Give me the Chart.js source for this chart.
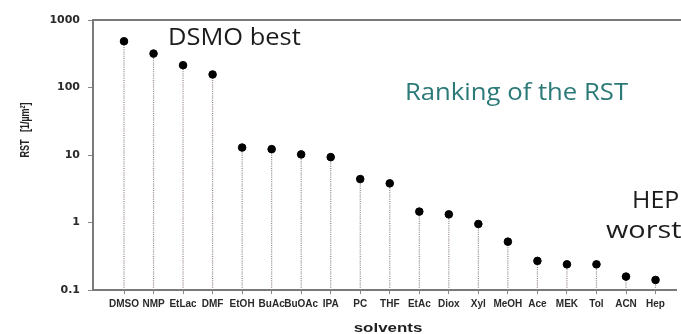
<!DOCTYPE html>
<html>
<head>
<meta charset="utf-8">
<script src="https://cdn.jsdelivr.net/npm/chart.js@4/dist/chart.umd.min.js"></script>
<style>
  html, body { margin: 0; padding: 0; background: #ffffff; }
  #wrap { width: 681px; height: 334px; }
</style>
</head>
<body>
<div id="wrap"><canvas id="c" width="681" height="334"></canvas></div>
<script>
// Solvents ranked by RST [1/µm²]
const solvents = ['DMSO', 'NMP', 'EtLac', 'DMF', 'EtOH', 'BuAc', 'BuOAc', 'IPA', 'PC', 'THF',
                  'EtAc', 'Diox', 'Xyl', 'MeOH', 'Ace', 'MEK', 'Tol', 'ACN', 'Hep'];
const rstValues = [484, 318, 214, 156, 12.9, 12.2, 10.2, 9.3, 4.4, 3.8,
                   1.45, 1.32, 0.95, 0.52, 0.27, 0.24, 0.24, 0.158, 0.141];
const yTicks = [0.1, 1, 10, 100, 1000];
const yMin = 0.1, yMax = 1000;

// Marker points
const points = rstValues.map((v, i) => ({ x: i, y: v }));
// Dotted stems from the bottom of the axis up to each point, separated by gaps
const stems = [];
rstValues.forEach((v, i) => {
  stems.push({ x: i, y: yMin }, { x: i, y: v }, { x: i, y: null });
});

function stretchedText(ctx, text, x, y, sx) {
  ctx.save();
  ctx.translate(x, y);
  ctx.scale(sx, 1);
  ctx.fillText(text, 0, 0);
  ctx.restore();
}

const notes = {
  id: 'notes',
  afterDraw(chart) {
    const ctx = chart.ctx;
    const a = chart.chartArea;
    ctx.save();
    // top frame line
    ctx.strokeStyle = '#7a7a7a';
    ctx.lineWidth = 2;
    ctx.beginPath();
    ctx.moveTo(a.left - 1, a.top);
    ctx.lineTo(chart.width, a.top);
    ctx.stroke();

    // y axis title
    ctx.save();
    ctx.translate(25, 130);
    ctx.rotate(-Math.PI / 2);
    ctx.scale(1, 1.45);
    ctx.fillStyle = '#222';
    ctx.font = 'bold 9px "Liberation Sans", Arial, sans-serif';
    ctx.textAlign = 'center';
    ctx.textBaseline = 'middle';
    ctx.fillText('RST   [1/\u00b5m\u00b2]', 0, 0);
    ctx.restore();

    // x axis title
    ctx.save();
    ctx.translate(388, 332);
    ctx.scale(1.3, 1);
    ctx.fillStyle = '#222';
    ctx.font = 'bold 13px "Liberation Sans", Arial, sans-serif';
    ctx.textAlign = 'center';
    ctx.textBaseline = 'alphabetic';
    ctx.fillText('solvents', 0, 0);
    ctx.restore();

    // annotations
    ctx.font = '24px "Open Sans", "Noto Sans", sans-serif';
    ctx.textAlign = 'left';
    ctx.textBaseline = 'alphabetic';
    ctx.fillStyle = '#1c1c1c';
    stretchedText(ctx, 'DSMO best', 168, 45, 1.06);
    stretchedText(ctx, 'HEP', 632, 208, 1.04);
    stretchedText(ctx, 'worst', 606, 238, 1.2);
    ctx.fillStyle = '#2b7a78';
    stretchedText(ctx, 'Ranking of the RST', 405, 100, 1.07);
    ctx.restore();
  }
};

new Chart(document.getElementById('c'), {
  type: 'scatter',
  data: {
    datasets: [
      {
        type: 'line',
        data: stems,
        borderColor: '#8f8280',
        borderWidth: 1.2,
        borderDash: [1, 1.2],
        pointRadius: 0,
        spanGaps: false,
        order: 2
      },
      {
        data: points,
        backgroundColor: '#000000',
        borderColor: '#000000',
        pointRadius: 3.8,
        pointHoverRadius: 3.8,
        order: 1
      }
    ]
  },
  options: {
    responsive: false,
    animation: false,
    events: [],
    layout: { padding: { left: 0, top: 20, right: 0, bottom: 0 } },
    plugins: { legend: { display: false }, tooltip: { enabled: false } },
    scales: {
      x: {
        type: 'linear',
        min: -1.05,
        max: 18.7,
        afterBuildTicks: s => { s.ticks = solvents.map((_, i) => ({ value: i })); },
        afterFit: s => { s.height = 44; },
        ticks: {
          autoSkip: false,
          maxRotation: 0,
          padding: 4,
          color: '#2a2a2a',
          font: { family: '"Liberation Sans", Arial, sans-serif', size: 10, weight: 'bold' },
          callback: v => solvents[v] ?? ''
        },
        grid: { drawOnChartArea: false, tickLength: 4, color: '#888', lineWidth: 1 },
        border: { color: '#7a7a7a', width: 2 }
      },
      y: {
        type: 'logarithmic',
        min: yMin,
        max: yMax,
        afterBuildTicks: s => { s.ticks = yTicks.map(v => ({ value: v })); },
        afterFit: s => { s.width = 93; },
        ticks: {
          padding: 8,
          color: '#2a2a2a',
          font: { family: '"DejaVu Sans", sans-serif', size: 11, weight: 'bold' },
          callback: v => String(v)
        },
        grid: { drawOnChartArea: false, tickLength: 5, color: '#888', lineWidth: 1 },
        border: { color: '#7a7a7a', width: 2 }
      }
    }
  },
  plugins: [notes]
});
</script>
</body>
</html>
